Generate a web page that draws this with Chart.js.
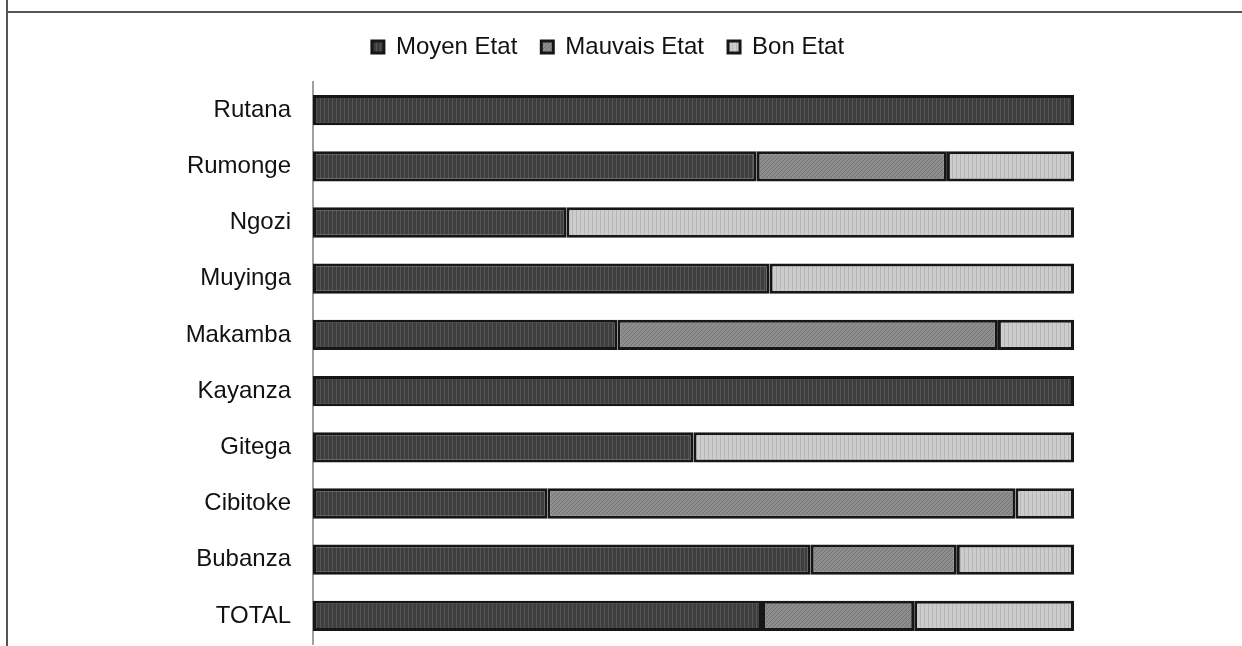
<!DOCTYPE html>
<html>
<head>
<meta charset="utf-8">
<script src="https://cdn.jsdelivr.net/npm/chart.js@4"></script>
<style>
  body { margin: 0; background: #fff; }
  #mainChart { position: absolute; left: 0; top: 0; }
  .line { position: absolute; background: #555; z-index: 2; }
</style>
</head>
<body>
<div class="line" style="left:6px; top:0; width:2px; height:646px;"></div>
<div class="line" style="left:6px; top:11px; width:1236px; height:2px;"></div>
<canvas id="mainChart" width="1242" height="646"></canvas>
<script>
const categories = ['Rutana', 'Rumonge', 'Ngozi', 'Muyinga', 'Makamba', 'Kayanza', 'Gitega', 'Cibitoke', 'Bubanza', 'TOTAL'];
const moyenEtat = [100, 58.3, 33.3, 60, 40, 100, 50, 30.8, 65.4, 59];
const mauvaisEtat = [null, 25, null, null, 50, null, null, 61.5, 19.2, 20];
const bonEtat = [null, 16.7, 66.7, 40, 10, null, 50, 7.7, 15.4, 21];

// small hatch patterns, like the printed original
function makePattern(bg, fg, kind) {
    const c = document.createElement('canvas');
    c.width = 4; c.height = 4;
    const g = c.getContext('2d');
    g.fillStyle = bg;
    g.fillRect(0, 0, 4, 4);
    g.fillStyle = fg;
    if (kind === 'diag') {
        for (let i = 0; i < 4; i++) g.fillRect(i, 3 - i, 1, 1);
    } else {
        g.fillRect(0, 0, 1, 4);
    }
    return g.createPattern(c, 'repeat');
}

const ctx = document.getElementById('mainChart').getContext('2d');
const font = "'Liberation Sans', Arial, sans-serif";

// fixed legend height so the plot starts where the original does
const legendHeight = {
    id: 'legendHeight',
    beforeInit(chart) {
        const legend = chart.legend;
        const fit = legend.fit;
        legend.fit = function() {
            fit.call(this);
            this.height = 71;
        };
    }
};

new Chart(ctx, {
    type: 'bar',
    data: {
        labels: categories,
        datasets: [
            { label: 'Moyen Etat', data: moyenEtat, backgroundColor: makePattern('#3e3e3e', '#555555', 'vert') },
            { label: 'Mauvais Etat', data: mauvaisEtat, backgroundColor: makePattern('#8e8e8e', '#747474', 'diag') },
            { label: 'Bon Etat', data: bonEtat, backgroundColor: makePattern('#cdcdcd', '#b6b6b6', 'vert') }
        ].map(ds => Object.assign(ds, {
            borderColor: '#161616',
            borderWidth: 3,
            borderSkipped: false,
            categoryPercentage: 1,
            barPercentage: 0.54
        }))
    },
    options: {
        indexAxis: 'y',
        responsive: false,
        animation: false,
        layout: { padding: { top: 11, right: 168, bottom: 2, left: 142 } },
        scales: {
            x: {
                stacked: true,
                min: 0,
                max: 100,
                display: false
            },
            y: {
                stacked: true,
                grid: { display: false, drawTicks: false },
                border: { color: '#a0a0a0', width: 2 },
                ticks: {
                    color: '#111',
                    padding: 22,
                    font: { family: font, size: 24 }
                },
                afterFit: function(scale) {
                    scale.width = 171;
                    // tick padding would otherwise push the plot up from the bottom
                    scale.paddingTop = 0;
                    scale.paddingBottom = 0;
                }
            }
        },
        plugins: {
            legend: {
                position: 'top',
                labels: {
                    color: '#111',
                    boxWidth: 12,
                    boxHeight: 12,
                    padding: 24,
                    font: { family: font, size: 24 }
                }
            },
            tooltip: { enabled: false }
        }
    },
    plugins: [legendHeight]
});
</script>
</body>
</html>
